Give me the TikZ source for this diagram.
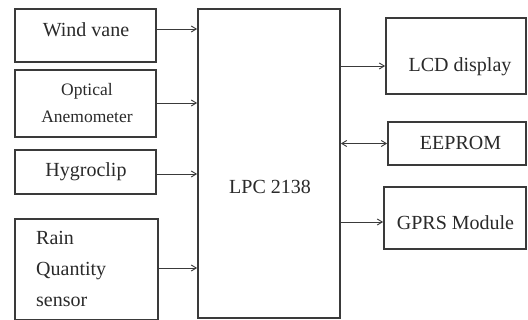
\documentclass[tikz,border=0pt]{standalone}
\usepackage{fontspec}
\setmainfont{Liberation Serif}
\usetikzlibrary{arrows.meta}
\definecolor{ln}{HTML}{3A3A3A}
\definecolor{tx}{HTML}{2A2A2A}
\begin{document}
\begin{tikzpicture}[x=1pt,y=1pt,
  blk/.style={draw=ln,line width=1.8pt,rectangle,inner sep=0pt,fill=white},
  lbl/.style={text=tx,inner sep=0pt,font=\fontsize{20}{24}\selectfont},
  arr/.style={draw=ln,line width=0.9pt,-{Straight Barb[length=5pt,width=6pt]}},
  darr/.style={draw=ln,line width=0.9pt,{Straight Barb[length=5pt,width=6pt]}-{Straight Barb[length=5pt,width=6pt]}}]
\useasboundingbox[fill=white] (0,0) rectangle (528,-320);
% left boxes
\node[blk,minimum width=141,minimum height=53] (wv) at (85.5,-35.5) {};
\node[blk,minimum width=141,minimum height=67] (oa) at (85.5,-103.5) {};
\node[blk,minimum width=141,minimum height=44] (hy) at (85.5,-172) {};
\node[blk,minimum width=143,minimum height=101] (rq) at (86.5,-269.5) {};
% central
\node[blk,minimum width=142,minimum height=309] (lpc) at (269,-163.5) {};
% right boxes
\node[blk,minimum width=140,minimum height=76] (lcd) at (456,-56) {};
\node[blk,minimum width=138,minimum height=43] (ee) at (457,-143.5) {};
\node[blk,minimum width=142,minimum height=62] (gp) at (455,-218) {};
% texts
\node[lbl,font=\fontsize{20}{24}\selectfont] (twv) at (86,-30) {Wind vane};
\node[lbl,font=\fontsize{17.5}{27}\selectfont,align=center] (toa) at (87,-103.5) {Optical\\Anemometer};
\node[lbl] (thy) at (86,-172) {Hygroclip};
\node[lbl,font=\fontsize{20}{31}\selectfont,align=left,anchor=west] (trq) at (36,-269) {Rain\\Quantity\\sensor};
\node[lbl] (tlpc) at (270,-187) {LPC 2138};
\node[lbl] (tlcd) at (460,-66.5) {LCD display};
\node[lbl] (tee) at (460.5,-143) {EEPROM};
\node[lbl] (tgp) at (455.5,-223) {GPRS Module};
% connectors
\draw[arr] ([yshift=6.5]wv.east) coordinate (a1) -- (a1 -| lpc.west);
\draw[arr] ([yshift=0.5]oa.east) coordinate (a2) -- (a2 -| lpc.west);
\draw[arr] ([yshift=-2]hy.east) coordinate (a3) -- (a3 -| lpc.west);
\draw[arr] ([yshift=1.5]rq.east) coordinate (a4) -- (a4 -| lpc.west);
\draw[arr] ([yshift=-10]lpc.east |- lcd.east) coordinate (b1) -- (b1 -| lcd.west);
\draw[darr] (lpc.east |- ee.west) -- (ee.west);
\draw[arr] ([yshift=-4]lpc.east |- gp.west) coordinate (b3) -- (b3 -| gp.west);
\end{tikzpicture}
\end{document}
